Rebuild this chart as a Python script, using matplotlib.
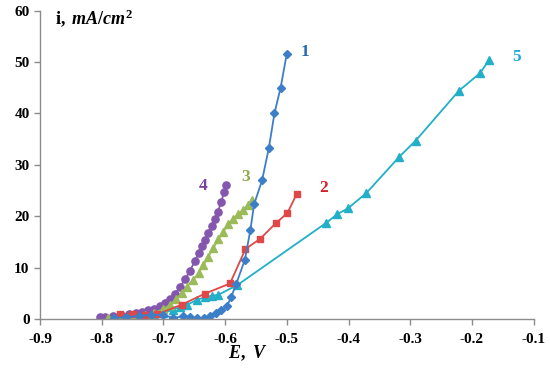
import matplotlib
matplotlib.use('Agg')
import matplotlib.pyplot as plt

plt.rcParams['font.family'] = ['Liberation Serif', 'DejaVu Serif']
plt.rcParams['mathtext.fontset'] = 'custom'
plt.rcParams['mathtext.rm'] = 'Liberation Serif:bold'
plt.rcParams['mathtext.bf'] = 'Liberation Serif:bold'
plt.rcParams['mathtext.it'] = 'Liberation Serif:italic:bold'

# curve 1 - blue diamonds
e1 = [-0.78, -0.76, -0.74, -0.72, -0.70, -0.685, -0.668, -0.657, -0.646, -0.634,
      -0.624, -0.615, -0.606, -0.597, -0.590, -0.582, -0.568, -0.559, -0.553,
      -0.540, -0.529, -0.520, -0.510, -0.500]
i1 = [0.2, 0.3, 0.6, 0.8, 0.8, 0.2, 0.5, 0.4, 0.1, 0.2,
      0.5, 1.1, 1.7, 2.5, 4.3, 6.8, 11.5, 17.3, 22.3,
      27.0, 33.3, 40.0, 45.0, 51.6]

# curve 2 - red squares
e2 = [-0.77, -0.75, -0.73, -0.71, -0.67, -0.633, -0.592, -0.567, -0.543, -0.518, -0.499, -0.484]
i2 = [1.0, 1.0, 0.8, 0.9, 2.8, 4.9, 6.9, 13.6, 15.6, 18.6, 20.6, 24.3]

# curve 3 - green triangles
e3 = [-0.79, -0.77, -0.75, -0.73, -0.715, -0.70, -0.69, -0.68, -0.670, -0.662,
      -0.652, -0.643, -0.635, -0.627, -0.619, -0.611, -0.603, -0.595, -0.587,
      -0.579, -0.571, -0.563, -0.556]
i3 = [0.2, 0.3, 0.5, 0.8, 1.2, 1.9, 2.7, 3.8, 5.0, 6.3,
      7.6, 8.9, 10.5, 12.1, 13.8, 15.5, 17.0, 18.4, 19.5,
      20.4, 21.2, 22.2, 23.2]

# curve 4 - purple circles
e4 = [-0.803, -0.795, -0.781, -0.768, -0.755, -0.745, -0.735, -0.725, -0.716, -0.706,
      -0.697, -0.689, -0.681, -0.673, -0.665, -0.657, -0.649, -0.643, -0.638, -0.633,
      -0.627, -0.622, -0.617, -0.612, -0.606, -0.602, -0.598]
i4 = [0.3, 0.3, 0.6, 0.8, 0.9, 1.1, 1.4, 1.7, 2.0, 2.5,
      3.1, 3.9, 4.9, 6.2, 7.7, 9.4, 11.2, 12.8, 14.1, 15.4,
      16.7, 18.0, 19.4, 20.8, 22.8, 24.6, 26.1]

# curve 5 - cyan triangles
e5 = [-0.785, -0.775, -0.765, -0.75, -0.733, -0.715, -0.70, -0.685, -0.673, -0.662,
      -0.646, -0.633, -0.622, -0.611, -0.580, -0.436, -0.418, -0.401, -0.371,
      -0.318, -0.291, -0.221, -0.187, -0.172]
i5 = [0.1, 0.1, 0.1, 0.3, 1.1, 1.0, 1.1, 1.8, 2.3, 2.7,
      3.7, 4.2, 4.5, 4.7, 6.6, 18.7, 20.4, 21.5, 24.5,
      31.5, 34.7, 44.4, 47.8, 50.4]

curves = [
    (e1, i1, '#3D7EC8', 'D', 4.0, '1', (-0.471, 51.9), '#2068B0'),
    (e2, i2, '#E04848', 's', 4.3, '2', (-0.441, 25.5), '#D0242A'),
    (e3, i3, '#9BBB59', '^', 5.2, '3', (-0.566, 27.6), '#8DA84E'),
    (e4, i4, '#8556AE', 'o', 5.2, '4', (-0.636, 25.9), '#7A3FA0'),
    (e5, i5, '#22AFC8', '^', 5.2, '5', (-0.127, 51.0), '#1AAAD8'),
]

fig = plt.figure(figsize=(5.5, 3.7), dpi=100)
ax = fig.add_axes([0.0727, 0.138, 0.8975, 0.8336])

# draw in reverse so curve 1 sits on top like the original
for e, i, col, mk, ms, lab, pos, lcol in reversed(curves):
    ax.plot(e, i, color=col, lw=1.3, marker=mk, ms=ms, mec=col, mfc=col)
for e, i, col, mk, ms, lab, pos, lcol in curves:
    ax.text(pos[0], pos[1], lab, color=lcol, fontsize=12.5, fontweight='bold',
            ha='center', va='center')

ax.set_xlim(-0.9, -0.1)
ax.set_ylim(0, 60)
ax.set_xticks([-0.9, -0.8, -0.7, -0.6, -0.5, -0.4, -0.3, -0.2, -0.1])
ax.set_xticklabels(['-0.9', '-0.8', '-0.7', '-0.6', '-0.5', '-0.4', '-0.3', '-0.2', '-0.1'])
ax.set_yticks([0, 10, 20, 30, 40, 50, 60])

for s in ['top', 'right']:
    ax.spines[s].set_visible(False)
for s in ['left', 'bottom']:
    ax.spines[s].set_color('#8C8C8C')
    ax.spines[s].set_linewidth(1.0)
ax.tick_params(colors='#8C8C8C', length=4, width=1.0, labelcolor='black', labelsize=11)
ax.tick_params(axis='x', pad=6)
for t in ax.get_xticklabels() + ax.get_yticklabels():
    t.set_fontweight('bold')

ax.text(0.03, 0.975, r'$\mathbf{i,}\mathit{\ mA/cm}^{2}$', transform=ax.transAxes,
        fontsize=13, ha='left', va='center')
ax.text(0.42, -0.11, r'$\mathit{E,\ V}$', transform=ax.transAxes,
        fontsize=13, ha='center', va='center')

fig.savefig('out.png', dpi=100)
